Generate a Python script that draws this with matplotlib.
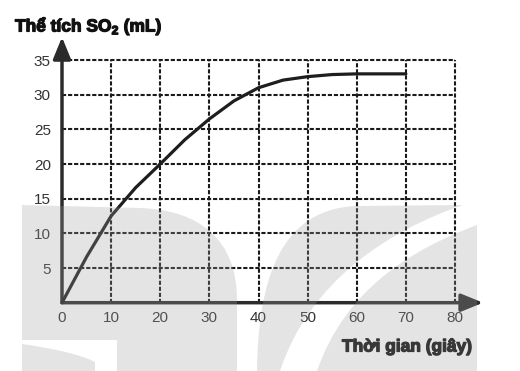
import numpy as np
import matplotlib
matplotlib.use("Agg")
import matplotlib.pyplot as plt
import matplotlib.patheffects as pe
from matplotlib.path import Path
from matplotlib.patches import PathPatch, FancyArrowPatch, ArrowStyle

plt.rcParams['font.family'] = ['Liberation Sans', 'DejaVu Sans']
plt.rcParams['mathtext.fontset'] = 'custom'
plt.rcParams['mathtext.rm'] = 'Liberation Sans:bold'
plt.rcParams['mathtext.bf'] = 'Liberation Sans:bold'

# data
time_s = [0, 5, 10, 15, 20, 25, 30, 35, 40, 45, 50, 55, 60, 65, 70]
volume_ml = [0, 6.6, 12.5, 16.6, 20.0, 23.5, 26.5, 29.1, 31.0, 32.1, 32.6, 32.9, 33.0, 33.0, 33.0]
x_ticks = [0, 10, 20, 30, 40, 50, 60, 70, 80]
y_ticks = [5, 10, 15, 20, 25, 30, 35]
y_title = r'Thể tích SO$_2$ (mL)'
x_title = 'Thời gian (giây)'

W, H = 520, 371
fig = plt.figure(figsize=(W / 100, H / 100), dpi=100)
fig.patch.set_facecolor('white')

# main axes, pixel layout from the reference
x0px, x80px = 62, 455
y0px, y35px = 302.7, 60
xmax, ymax = 90, 40
axw = (x80px - x0px) * xmax / 80
axh = (y0px - y35px) * ymax / 35
ax = fig.add_axes([x0px / W, (H - y0px) / H, axw / W, axh / H])
ax.set_xlim(0, xmax)
ax.set_ylim(0, ymax)
for s in ax.spines.values():
    s.set_visible(False)
ax.patch.set_alpha(0)

line_col = '#2b2b2b'
# dotted grid
ax.vlines(x_ticks[1:], 0, 35, colors='#1a1a1a', lw=1.5, linestyles=(0, (2, 0.9)), zorder=1)
ax.hlines(y_ticks, 0, 80, colors='#1a1a1a', lw=1.5, linestyles=(0, (2, 0.9)), zorder=1)

# axes with arrows
head = ArrowStyle('-|>', head_length=1.1, head_width=0.45)
ax.add_patch(FancyArrowPatch((0, 0), (85.7, 0), arrowstyle=head, mutation_scale=12,
                             color=line_col, lw=2.5, shrinkA=0, shrinkB=0,
                             clip_on=False, zorder=3))
ax.add_patch(FancyArrowPatch((0, 0), (0, 38.3), arrowstyle=head, mutation_scale=12,
                             color=line_col, lw=2.5, shrinkA=0, shrinkB=0,
                             clip_on=False, zorder=3))

# curve
ax.plot(time_s, volume_ml, color='#1e1e1e', lw=2.3, solid_capstyle='round',
        solid_joinstyle='round', zorder=4, clip_on=False)

ax.set_xticks(x_ticks)
ax.set_yticks(y_ticks)
ax.tick_params(length=0, labelsize=11, labelcolor='#333333')
ax.tick_params(axis='x', pad=6)
ax.tick_params(axis='y', pad=8)

heavy = [pe.withStroke(linewidth=0.9, foreground='#111111')]
ax.text(15 / W, 1 - 26 / H, y_title, transform=fig.transFigure, fontsize=12.5,
        fontweight='bold', color='#111111', ha='left', va='center', path_effects=heavy)
ax.text(473 / W, 1 - 347 / H, x_title, transform=fig.transFigure, fontsize=12.5,
        fontweight='bold', color='#111111', ha='right', va='center', path_effects=heavy)

# watermark overlay (pixel coordinates)
bg = fig.add_axes([0, 0, 1, 1], zorder=10)
bg.set_xlim(0, W)
bg.set_ylim(H, 0)
bg.axis('off')
bg.patch.set_alpha(0)

M, L, C, Z = Path.MOVETO, Path.LINETO, Path.CURVE4, Path.CLOSEPOLY
shapes = [
    ([(22, 205), (140, 208), (200, 210), (237, 240), (237, 300), (237, 371),
      (117, 371), (117, 340), (22, 340), (22, 205)],
     [M, L, C, C, C, L, L, L, L, Z]),
    ([(22, 344), (50, 348), (80, 354), (95, 362), (95, 371), (22, 371), (22, 344)],
     [M, C, C, C, L, L, Z]),
    ([(257, 371), (258, 280), (280, 210), (355, 206), (463, 205),
      (390, 230), (310, 280), (280, 371), (257, 371)],
     [M, C, C, C, L, C, C, C, Z]),
    ([(317, 371), (345, 290), (410, 250), (477, 225), (477, 371), (317, 371)],
     [M, C, C, C, L, Z]),
]
for verts, codes in shapes:
    bg.add_patch(PathPatch(Path(verts, codes), facecolor='#a0a0a0', alpha=0.28,
                           edgecolor='none'))

fig.savefig('out.png', dpi=100)
